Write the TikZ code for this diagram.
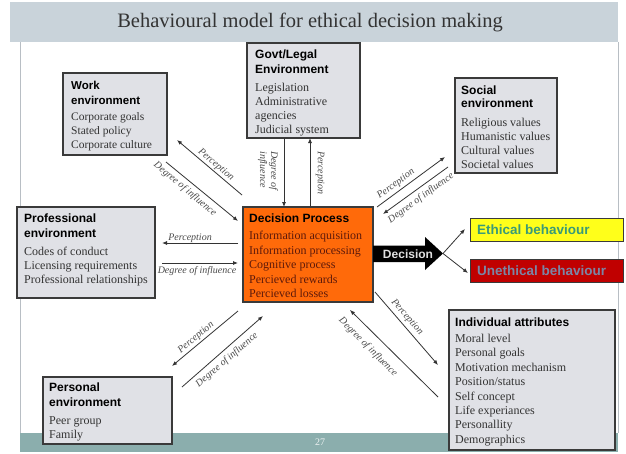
\documentclass[tikz,border=0pt]{standalone}
\usepackage{fontspec}
\setmainfont{Liberation Serif}
\setsansfont{Liberation Sans}
\usetikzlibrary{arrows.meta}
\definecolor{titleband}{HTML}{C9D3DA}
\definecolor{footband}{HTML}{8BAEAD}
\definecolor{frameline}{HTML}{B8BEC4}
\definecolor{boxfill}{HTML}{E0E1E6}
\definecolor{boxline}{HTML}{3A3A3A}
\definecolor{itemtext}{HTML}{333333}
\definecolor{dptext}{HTML}{5E1A0A}
\definecolor{dpfill}{HTML}{FF6A0A}
\definecolor{ethfill}{HTML}{FFFF1A}
\definecolor{ethtext}{HTML}{3A9A78}
\definecolor{unethfill}{HTML}{C00000}
\definecolor{unethtext}{HTML}{7A86A6}
\definecolor{linegray}{HTML}{333333}
\definecolor{labelgray}{HTML}{4A4A4A}
\begin{document}
\begin{tikzpicture}[x=1pt,y=-1pt,
  envbox/.style={draw=boxline, fill=boxfill, line width=1.2pt, inner sep=0pt, outer sep=0pt, anchor=north west},
  txt/.style={anchor=north west, inner sep=0pt, align=left, text=itemtext, font=\fontsize{12}{14}\selectfont},
  conn/.style={draw=linegray, line width=0.8pt, -{Latex[length=5pt,width=4pt]}},
  lbl/.style={font=\fontsize{10}{11}\selectfont\itshape, text=labelgray, inner sep=0pt},
  behbox/.style={draw=boxline, line width=1pt, anchor=north west, inner sep=0pt, minimum width=153pt, minimum height=23pt},
  behtext/.style={anchor=west, inner sep=0pt, font=\fontsize{13.5}{15}\selectfont\sffamily\bfseries}
]
\useasboundingbox (0,0) rectangle (626,453);
\fill[white] (0,0) rectangle (626,453);
% slide frame
\fill[titleband] (10,2) rectangle (618,42);
\node[font=\fontsize{20.5}{24}\selectfont, text=black!80, inner sep=0pt] (title) at (310,22) {Behavioural model for ethical decision making};
\draw[frameline, line width=0.8pt] (20,42) -- (20,433);
\draw[frameline, line width=0.8pt] (618,42) -- (618,433);
\fill[footband] (20,433) rectangle (618,452);
\node[font=\fontsize{10}{12}\selectfont, text=white!85!footband, inner sep=0pt] (pagenum) at (320,442) {27};

% boxes
\node[envbox, minimum width=104pt, minimum height=82pt] (work) at (63,73) {};
\node[txt, font=\fontsize{11.5}{14}\selectfont] (workt) at (71,80.6) {{\sffamily\bfseries\color{black}Work}\\[1pt]{\sffamily\bfseries\color{black}environment}\\[2pt]Corporate goals\\Stated policy\\Corporate culture};

\node[envbox, minimum width=113pt, minimum height=95pt] (govt) at (247,43) {};
\node[txt] (govtt) at (255,49.6) {{\sffamily\bfseries\color{black}Govt/Legal}\\[1pt]{\sffamily\bfseries\color{black}Environment}\\[4pt]Legislation\\Administrative\\agencies\\Judicial system};

\node[envbox, minimum width=102pt, minimum height=95pt] (social) at (455,78) {};
\node[txt] (socialt) at (461,85.6) {{\sffamily\bfseries\color{black}Social}\\[-1pt]{\sffamily\bfseries\color{black}environment}\\[5pt]Religious values\\Humanistic values\\Cultural values\\Societal values};

\node[envbox, minimum width=138pt, minimum height=91pt] (prof) at (17,207) {};
\node[txt] (proft) at (24,213.6) {{\sffamily\bfseries\color{black}Professional}\\[1pt]{\sffamily\bfseries\color{black}environment}\\[4pt]Codes of conduct\\Licensing requirements\\Professional relationships};

\node[envbox, fill=dpfill, minimum width=130pt, minimum height=95pt] (dp) at (243,207) {};
\node[txt, text=dptext, font=\fontsize{12}{14.5}\selectfont] (dpt) at (249,213.6) {{\sffamily\bfseries\color{black}Decision Process}\\[2.5pt]Information acquisition\\Information processing\\Cognitive process\\Percieved rewards\\Percieved losses};

\node[envbox, minimum width=129pt, minimum height=67pt] (pers) at (43,377) {};
\node[txt] (perst) at (49,382.6) {{\sffamily\bfseries\color{black}Personal}\\[1pt]{\sffamily\bfseries\color{black}environment}\\[4pt]Peer group\\Family};

\node[envbox, minimum width=166pt, minimum height=140pt] (indiv) at (449,310) {};
\node[txt, font=\fontsize{12}{14.4}\selectfont] (indivt) at (455,317.6) {{\sffamily\bfseries\color{black}Individual attributes}\\[1.6pt]Moral level\\Personal goals\\Motivation mechanism\\Position/status\\Self concept\\Life experiances\\Personallity\\Demographics};

% behaviour boxes
\node[behbox, fill=ethfill] (eth) at (470,218) {};
\node[behtext, text=ethtext] (etht) at ([xshift=7pt]eth.west) {Ethical behaviour};
\node[behbox, fill=unethfill] (uneth) at (470,259) {};
\node[behtext, text=unethtext] (unetht) at ([xshift=7pt]uneth.west) {Unethical behaviour};

% decision arrow
\fill[black] (dp.east |- 0,245.5) -- (425,245.5) -- (425,237) -- (443,253.5) -- (425,270) -- (425,262) -- (dp.east |- 0,262) -- cycle;
\coordinate (dtip) at (443,253.5);
\node[font=\fontsize{12}{14}\selectfont\sffamily\bfseries, text=white!88!black, inner sep=0pt] (dlabel) at (408,254) {Decision};
\draw[conn] (dtip) -- ([xshift=-5pt,yshift=1pt]eth.west);
\draw[conn] (dtip) -- ([xshift=-2pt,yshift=-2pt]uneth.west);

% coordinates of connector ends
\coordinate (pw1) at (242,195); \coordinate (pw2) at (177,140);
\coordinate (dw1) at (166,162); \coordinate (dw2) at (238,221);
\coordinate (dg1) at (284,138); \coordinate (dg2) at (284,207);
\coordinate (pg1) at (310,207); \coordinate (pg2) at (310,138);
\coordinate (ps1) at (377,207); \coordinate (ps2) at (445,157);
\coordinate (ds1) at (448,167); \coordinate (ds2) at (383,214);
\coordinate (pp1) at (238,243); \coordinate (pp2) at (162,243);
\coordinate (dpr1) at (162,263); \coordinate (dpr2) at (238,263);
\coordinate (pe1) at (238,311); \coordinate (pe2) at (172,366);
\coordinate (de1) at (182,387); \coordinate (de2) at (263,316);
\coordinate (pi1) at (375,292); \coordinate (pi2) at (438,365);
\coordinate (di1) at (438,397); \coordinate (di2) at (350,310);

\draw[conn] (pw1) -- (pw2);
\draw[conn] (dw1) -- (dw2);
\draw[conn] (dg1) -- (dg2);
\draw[conn] (pg1) -- (pg2);
\draw[conn] (ps1) -- (ps2);
\draw[conn] (ds1) -- (ds2);
\draw[conn] (pp1) -- (pp2);
\draw[conn] (dpr1) -- (dpr2);
\draw[conn] (pe1) -- (pe2);
\draw[conn] (de1) -- (de2);
\draw[conn] (pi1) -- (pi2);
\draw[conn] (di1) -- (di2);

% labels
\node[lbl, rotate=-40] (lpw) at (216,165) {Perception};
\node[lbl, rotate=-40] (ldw) at (185,189) {Degree of influence};
\node[lbl, rotate=-90, align=left] (ldg) at (268,171) {Degree of\\influence};
\node[lbl, rotate=-90] (lpg) at (320,173) {Perception};
\node[lbl, rotate=36] (lps) at (396,184) {Perception};
\node[lbl, rotate=36] (lds) at (421,198) {Degree of influence};
\node[lbl] (lpp) at (190,238) {Perception};
\node[lbl] (ldp) at (197,271) {Degree of influence};
\node[lbl, rotate=40] (lpe) at (196,338) {Perception};
\node[lbl, rotate=41] (lde) at (227,360) {Degree of influence};
\node[lbl, rotate=-49] (lpi) at (407,317) {Perception};
\node[lbl, rotate=-45] (ldi) at (368,347) {Degree of influence};
\end{tikzpicture}
\end{document}
